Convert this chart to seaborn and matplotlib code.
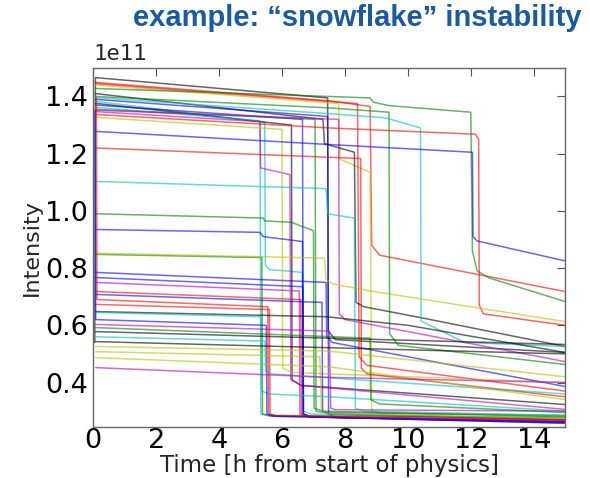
import matplotlib
matplotlib.use("Agg")
import matplotlib.pyplot as plt
import seaborn as sns
import pandas as pd
from matplotlib.ticker import ScalarFormatter, MultipleLocator

# ---------------- data (intensity in units of 1e11, time in h) ----------------
SCALE = 1e11
t01 = [0.05, 0.07, 7.45, 7.47, 7.7, 15]; v01 = [0.54, 1.466, 1.395, 0.58, 0.55, 0.505]
t02 = [0.08, 7.5, 8.8, 8.85, 9.1, 15]; v02 = [1.449, 1.385, 1.365, 0.88, 0.845, 0.718]
t03 = [0.08, 7.8, 7.85, 8.8, 8.85, 9.2, 15]; v03 = [1.44, 1.375, 1.18, 1.135, 0.30, 0.29, 0.272]
t04 = [0.08, 8.4, 8.45, 8.7, 15]; v04 = [1.445, 1.375, 0.49, 0.46, 0.37]
t05 = [0.08, 7.5, 8.8, 8.9, 9.4, 12.0, 12.05, 12.2, 12.6, 15]; v05 = [1.428, 1.40, 1.395, 1.38, 1.368, 1.345, 0.86, 0.79, 0.765, 0.683]
t06 = [0.08, 7.3, 7.35, 8.3, 8.35, 8.6, 10.4, 15]; v06 = [1.41, 1.32, 1.235, 1.205, 0.68, 0.665, 0.627, 0.526]
t07 = [0.08, 7.5, 9.4, 9.42, 9.7, 15]; v07 = [1.40, 1.36, 1.345, 0.57, 0.53, 0.463]
t08 = [0.08, 7.5, 9.3, 10.4, 10.42, 11.8, 15]; v08 = [1.396, 1.34, 1.325, 1.29, 0.615, 0.54, 0.526]
t09 = [0.08, 7.45, 7.48, 7.7, 15]; v09 = [1.39, 1.33, 0.29, 0.278, 0.262]
t10 = [0.08, 5.45, 5.47, 5.6, 6.65, 6.68, 6.9, 15]; v10 = [1.383, 1.31, 0.81, 0.795, 0.785, 0.30, 0.29, 0.27]
t11 = [0.08, 6.3, 6.32, 6.6, 15]; v11 = [1.376, 1.30, 0.41, 0.39, 0.323]
t12 = [0.08, 6.65, 6.68, 6.9, 15]; v12 = [1.37, 1.32, 0.29, 0.28, 0.258]
t13 = [0.08, 5.3, 5.33, 5.6, 15]; v13 = [1.362, 1.315, 0.29, 0.282, 0.262]
t14 = [0.08, 7.05, 7.08, 7.3, 15]; v14 = [1.355, 1.32, 0.30, 0.295, 0.285]
t15 = [0.08, 5.3, 5.32, 6.25, 6.28, 6.6, 15]; v15 = [1.347, 1.312, 1.15, 1.127, 0.41, 0.39, 0.306]
t16 = [0.08, 7.8, 7.82, 8.0, 15]; v16 = [1.352, 1.32, 0.64, 0.62, 0.473]
t17 = [0.08, 7.5, 12.15, 12.25, 12.27, 12.4, 15]; v17 = [1.337, 1.29, 1.268, 1.25, 0.67, 0.64, 0.60]
t18 = [0.08, 6.0, 6.02, 6.3, 15]; v18 = [1.327, 1.285, 0.45, 0.435, 0.40]
t19 = [0.08, 7.5, 12.05, 12.07, 12.2, 15]; v19 = [1.278, 1.232, 1.205, 0.91, 0.895, 0.825]
t20 = [0.08, 8.5, 8.52, 8.7, 15]; v20 = [1.22, 1.183, 0.45, 0.43, 0.35]
t21 = [0.08, 7.4, 7.45, 8.3, 8.33, 8.6, 15]; v21 = [1.103, 1.078, 0.99, 0.975, 0.31, 0.30, 0.285]
t22 = [0.08, 5.4, 5.45, 6.3, 6.9, 7.0, 7.02, 7.3, 15]; v22 = [0.99, 0.975, 0.965, 0.96, 0.935, 0.93, 0.31, 0.30, 0.28]
t23 = [0.08, 5.3, 5.4, 6.65, 6.67, 6.9, 15]; v23 = [0.935, 0.925, 0.91, 0.893, 0.29, 0.28, 0.262]
t24 = [0.08, 5.36, 5.38, 5.6, 15]; v24 = [0.848, 0.837, 0.29, 0.285, 0.278]
t25 = [0.08, 7.35, 7.4, 7.6, 8.8, 15]; v25 = [0.852, 0.835, 0.76, 0.745, 0.72, 0.613]
t26 = [0.08, 7.4, 7.42, 7.6, 15]; v26 = [0.785, 0.75, 0.56, 0.54, 0.386]
t27 = [0.08, 6.66, 6.68, 6.9, 15]; v27 = [0.767, 0.735, 0.29, 0.28, 0.258]
t28 = [0.08, 6.55, 6.57, 6.8, 15]; v28 = [0.75, 0.72, 0.29, 0.282, 0.262]
t29 = [0.08, 6.6, 6.62, 6.8, 15]; v29 = [0.718, 0.69, 0.29, 0.28, 0.265]
t30 = [0.08, 7.27, 7.29, 7.5, 15]; v30 = [0.708, 0.68, 0.30, 0.29, 0.27]
t31 = [0.10, 0.12, 5.55, 5.57, 5.8, 15]; v31 = [1.395, 0.69, 0.665, 0.29, 0.283, 0.268]
t32 = [0.08, 5.6, 5.62, 5.8, 15]; v32 = [0.673, 0.655, 0.29, 0.283, 0.27]
t33 = [0.08, 7.4, 10.0, 15]; v33 = [0.648, 0.63, 0.60, 0.505]
t34 = [0.08, 5.33, 5.35, 5.6, 7.5, 15]; v34 = [0.645, 0.63, 0.37, 0.36, 0.35, 0.30]
t35 = [0.05, 0.08, 5.5, 5.52, 5.7, 15]; v35 = [1.35, 0.62, 0.60, 0.29, 0.282, 0.262]
t36 = [0.08, 7.5, 7.55, 7.7, 15]; v36 = [0.603, 0.58, 0.31, 0.305, 0.30]
t37 = [0.08, 8.8, 8.82, 9.1, 15]; v37 = [0.592, 0.555, 0.34, 0.325, 0.295]
t38 = [0.08, 7.5, 15]; v38 = [0.578, 0.555, 0.533]
t39 = [0.08, 5.46, 5.48, 5.7, 15]; v39 = [0.56, 0.545, 0.44, 0.43, 0.36]
t40 = [0.08, 15]; v40 = [0.543, 0.50]
t41 = [0.08, 7.5, 15]; v41 = [0.526, 0.51, 0.42]
t42 = [0.08, 7.2, 7.25, 7.5, 15]; v42 = [0.508, 0.49, 0.30, 0.29, 0.275]
t43 = [0.08, 7.5, 15]; v43 = [0.487, 0.455, 0.34]
t44 = [0.08, 7.5, 15]; v44 = [0.452, 0.418, 0.40]

fill_colors = ["k", "r", "y", "r", "g", "k", "g", "c", "b", "c",
               "k", "b", "c", "g", "m", "m", "r", "y", "b", "r",
               "c", "g", "b", "g", "y", "b", "b", "m", "r", "b",
               "r", "r", "k", "c", "b", "m", "g", "k", "c", "k",
               "y", "y", "y", "m"]

x_ticks = [0, 2, 4, 6, 8, 10, 12, 14]
title_text = "example: \u201csnowflake\u201d instability"
x_label = "Time [h from start of physics]"
y_label = "Intensity"
offset_label = "1e11"

# ---------------- build long table ----------------
all_t = [t01, t02, t03, t04, t05, t06, t07, t08, t09, t10, t11, t12, t13, t14, t15,
         t16, t17, t18, t19, t20, t21, t22, t23, t24, t25, t26, t27, t28, t29, t30,
         t31, t32, t33, t34, t35, t36, t37, t38, t39, t40, t41, t42, t43, t44]
all_v = [v01, v02, v03, v04, v05, v06, v07, v08, v09, v10, v11, v12, v13, v14, v15,
         v16, v17, v18, v19, v20, v21, v22, v23, v24, v25, v26, v27, v28, v29, v30,
         v31, v32, v33, v34, v35, v36, v37, v38, v39, v40, v41, v42, v43, v44]
classic = {"b": "#0000ff", "g": "#008000", "r": "#ff0000", "c": "#00bfbf",
           "m": "#bf00bf", "y": "#bfbf00", "k": "#000000"}
rows = []
palette = {}
for i, (ts, vs) in enumerate(zip(all_t, all_v)):
    name = f"fill{i+1:02d}"
    palette[name] = classic[fill_colors[i]]
    for k, (t, v) in enumerate(zip(ts, vs)):
        rows.append({"fill": name, "order": k, "t": t, "I": v * SCALE})
df = pd.DataFrame(rows)

# ---------------- plot ----------------
sns.set_style("white")
plt.rcParams["font.family"] = ["DejaVu Sans"]
fig = plt.figure(figsize=(5.9, 4.78), dpi=100)
ax = fig.add_axes([0.158, 0.107, 0.80, 0.751])

sns.lineplot(data=df, x="t", y="I", hue="fill", palette=palette, units="fill",
             estimator=None, sort=False, legend=False, linewidth=1.1, alpha=0.6, ax=ax)

ax.set_xlim(0, 15)
ax.set_xticks(x_ticks)
ax.yaxis.set_major_locator(MultipleLocator(0.2 * SCALE))
fmt = ScalarFormatter(useOffset=False)
fmt.set_scientific(True)
fmt.set_powerlimits((0, 0))
ax.yaxis.set_major_formatter(fmt)
ax.set_ylim(0.245 * SCALE, 1.5 * SCALE)
ax.yaxis.get_offset_text().set_visible(False)

ax.tick_params(direction="in", top=True, right=True, length=6, width=0.8,
               labelsize=19.5, colors="#555555", labelcolor="black", pad=1)
ax.tick_params(axis="y", pad=4)
for s in ax.spines.values():
    s.set_color("#666666")
    s.set_linewidth(1.0)

ax.set_xlabel(x_label, fontsize=16.5, labelpad=-0.5)
ax.set_ylabel(y_label, fontsize=16, labelpad=2)
ax.text(0.0, 1.012, offset_label, transform=ax.transAxes, ha="left", va="bottom",
        fontsize=16, family="DejaVu Sans Mono")

fig.text(0.605, 0.962, title_text, ha="center", va="center", fontsize=21,
         fontweight="bold", color="#1a5aa0", family=["Liberation Sans", "DejaVu Sans"])

fig.savefig("out.png", dpi=100)
